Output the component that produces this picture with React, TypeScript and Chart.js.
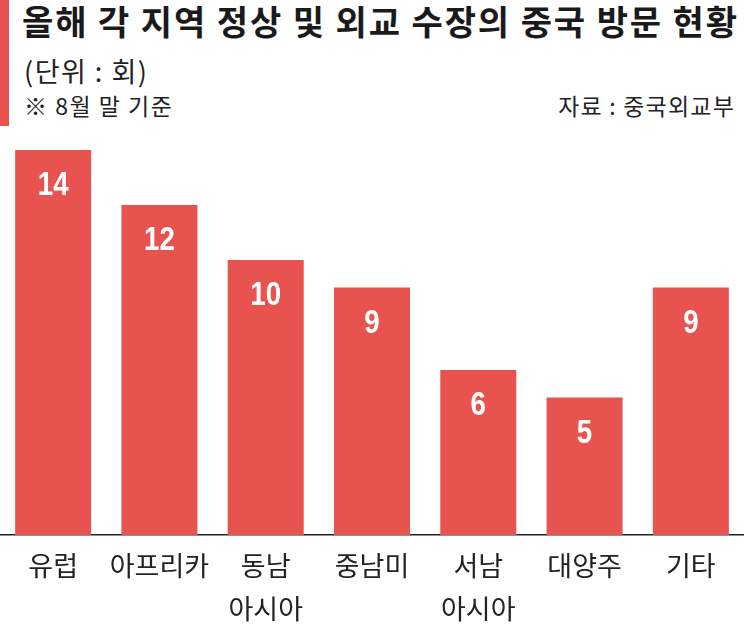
import React, { useEffect, useRef } from "react";
import { Chart, registerables } from "chart.js";

Chart.register(...registerables);

const categories: string[][] = [["유럽"], ["아프리카"], ["동남", "아시아"], ["중남미"], ["서남", "아시아"], ["대양주"], ["기타"]];
const visits: number[] = [14, 12, 10, 9, 6, 5, 9];
const titleText = "올해 각 지역 정상 및 외교 수장의 중국 방문 현황";
const unitText = "(단위 : 회)";
const noteText = "※ 8월 말 기준";
const sourceText = "자료 : 중국외교부";

const RED = "#E8534F";
const KFONT = "'Noto Sans CJK KR', 'Noto Sans', sans-serif";

const valueLabels = {
  id: "valueLabels",
  afterDatasetsDraw(chart: any) {
    const ctx = chart.ctx;
    const meta = chart.getDatasetMeta(0);
    meta.data.forEach((bar: any, i: number) => {
      ctx.save();
      ctx.fillStyle = "#ffffff";
      ctx.font = "bold 33px 'Liberation Sans', Arial, sans-serif";
      ctx.textAlign = "center";
      ctx.textBaseline = "middle";
      ctx.translate(bar.x, bar.y + 36);
      ctx.scale(0.84, 1);
      ctx.fillText(String(chart.data.datasets[0].data[i]), 0, 0);
      ctx.restore();
    });
  },
};

export default function App() {
  const ref = useRef<HTMLCanvasElement | null>(null);
  useEffect(() => {
    document.body.style.margin = "0";
    const chart = new Chart(ref.current as HTMLCanvasElement, {
      type: "bar",
      data: {
        labels: categories,
        datasets: [
          {
            data: visits,
            backgroundColor: RED,
            borderWidth: 0,
            barPercentage: 0.715,
            categoryPercentage: 1,
          },
        ],
      },
      options: {
        animation: false,
        responsive: false,
        maintainAspectRatio: false,
        layout: { padding: { top: 150, left: 0, right: 0, bottom: 0 } },
        plugins: { legend: { display: false }, tooltip: { enabled: false } },
        scales: {
          y: { display: false, min: 0, max: 14 },
          x: {
            grid: { display: false, drawTicks: false },
            border: { display: true, color: "#222222", width: 1.5 },
            ticks: {
              color: "#222222",
              font: { family: KFONT, size: 27, lineHeight: 1.6 },
              padding: 9,
              maxRotation: 0,
              autoSkip: false,
            },
            afterFit: (s: any) => {
              s.height = 91;
            },
          },
        },
      },
      plugins: [valueLabels],
    });
    return () => chart.destroy();
  }, []);

  return (
    <div style={{ position: "relative", width: 744, height: 626, background: "#fff", fontFamily: KFONT, color: "#1a1a1a" }}>
      <div style={{ position: "absolute", left: 0, top: 0, width: 9, height: 126, background: RED }} />
      <div style={{ position: "absolute", left: 22, top: 1, fontSize: 34, fontWeight: 700, lineHeight: 1.2, whiteSpace: "nowrap", letterSpacing: 1.9 }}>{titleText}</div>
      <div style={{ position: "absolute", left: 24, top: 53, fontSize: 27, lineHeight: 1.3, whiteSpace: "nowrap", color: "#222", letterSpacing: 1.5 }}>{unitText}</div>
      <div style={{ position: "absolute", left: 24, top: 91, fontSize: 23, lineHeight: 1.3, whiteSpace: "nowrap", color: "#222", letterSpacing: 1.5 }}>{noteText}</div>
      <div style={{ position: "absolute", right: 9, top: 91, fontSize: 23, lineHeight: 1.3, whiteSpace: "nowrap", color: "#222", letterSpacing: 1.2 }}>{sourceText}</div>
      <canvas ref={ref} width={744} height={626} style={{ position: "absolute", left: 0, top: 0, display: "block" }} />
    </div>
  );
}
